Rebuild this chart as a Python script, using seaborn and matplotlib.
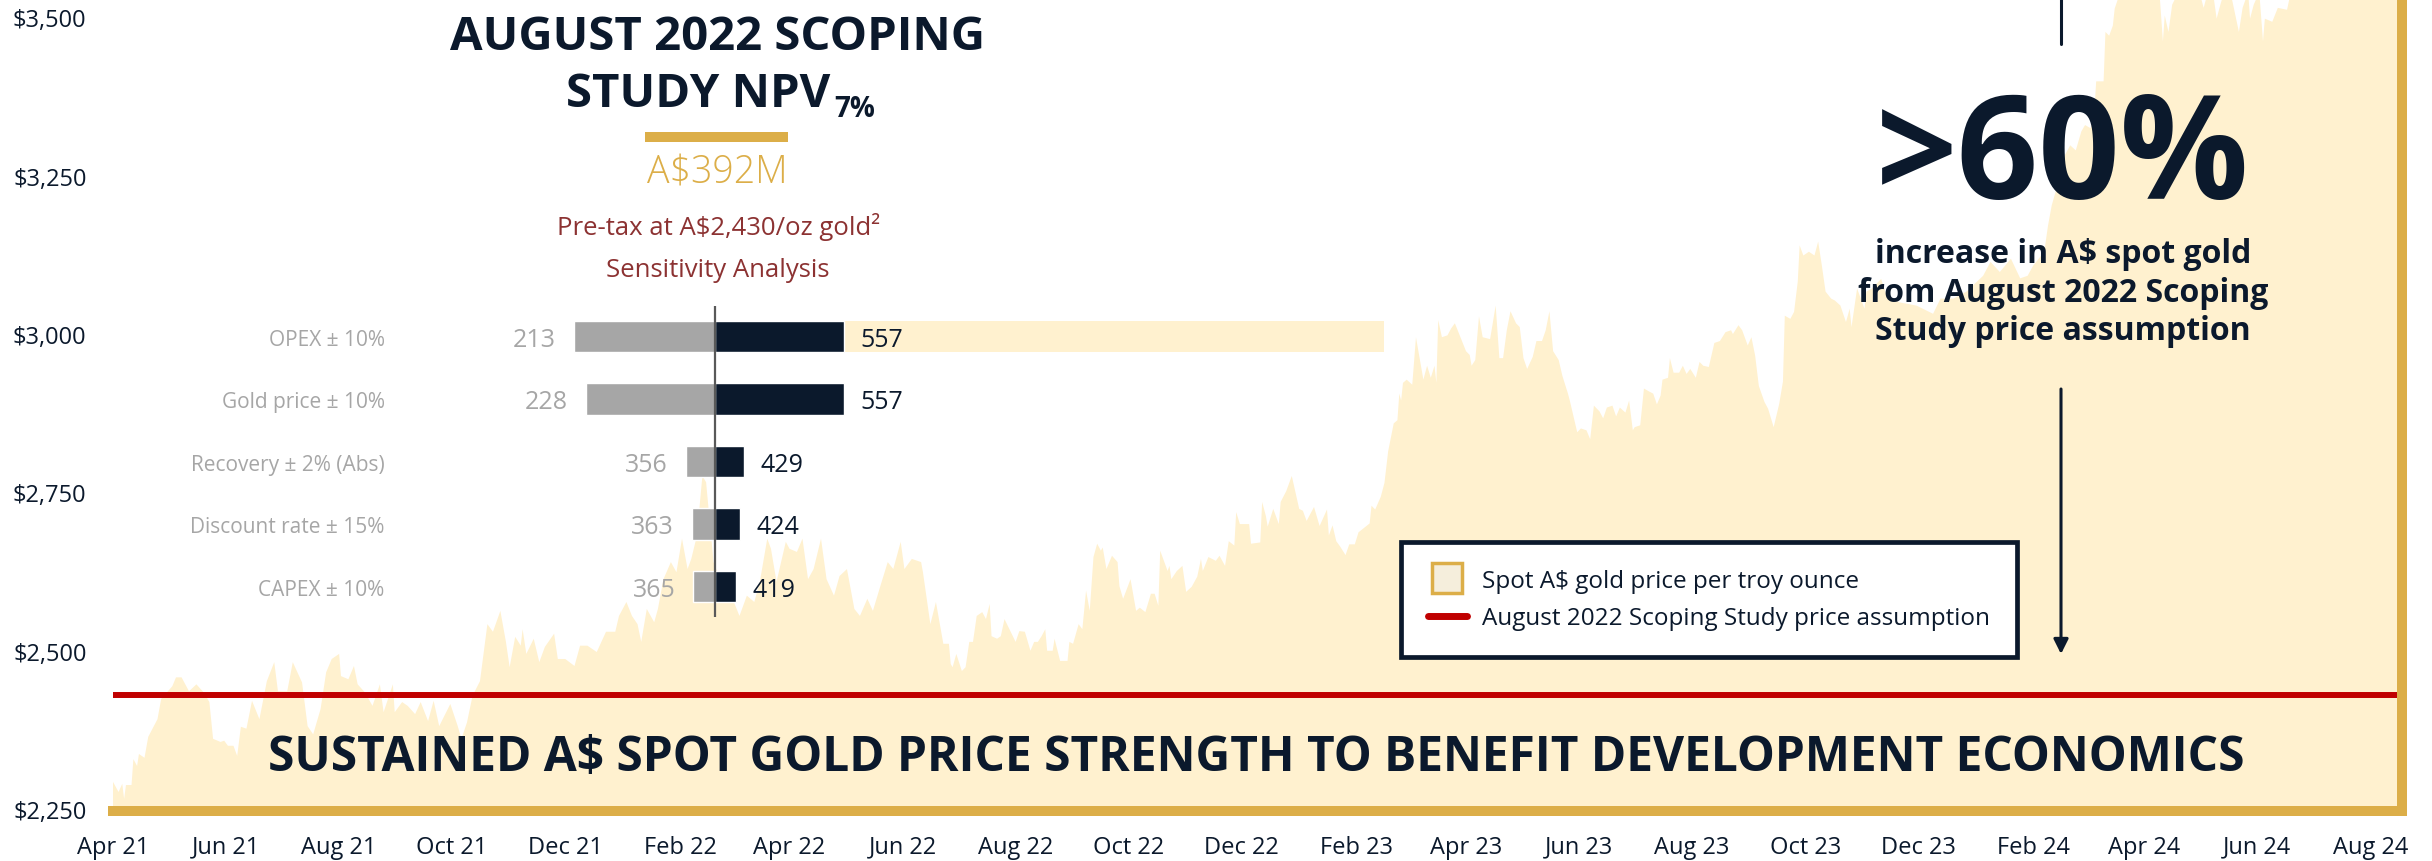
import numpy as np
import pandas as pd
import matplotlib
matplotlib.use("Agg")
import matplotlib.pyplot as plt
import matplotlib.dates as mdates
from matplotlib.lines import Line2D
import seaborn as sns

#1: Data
## Spot A$ gold price per troy ounce (x = days after 1 Apr 2021)
days = [
    0, 3, 5, 6, 7, 10, 11, 13, 14, 17,
    19, 24, 26, 32, 34, 37, 41, 45, 49, 52,
    54, 58, 60, 62, 65, 67, 69, 72, 75, 79,
    83, 87, 89, 94, 97, 102, 105, 108, 112, 115,
    118, 122, 123, 127, 130, 132, 136, 140, 144, 146,
    151, 152, 156, 159, 163, 166, 170, 173, 176, 182,
    186, 188, 191, 194, 198, 202, 205, 209, 212, 214,
    217, 220, 221, 223, 227, 230, 233, 238, 240, 244,
    249, 252, 256, 261, 266, 271, 273, 275, 277, 280,
    283, 285, 288, 292, 294, 297, 301, 304, 307, 310,
    312, 315, 318, 320, 324, 328, 331, 335, 338, 342,
    346, 349, 353, 355, 358, 363, 365, 369, 372, 375,
    378, 382, 385, 389, 392, 396, 400, 403, 407, 410,
    414, 418, 421, 425, 427, 431, 436, 437, 441, 444,
    448, 451, 452, 453, 455, 458, 460, 462, 464, 466,
    469, 471, 473, 474, 477, 479, 481, 487, 489, 492,
    495, 497, 499, 501, 503, 504, 507, 508, 511, 515,
    516, 518, 521, 523, 525, 527, 529, 531, 533, 534,
    536, 539, 542, 543, 545, 549, 552, 554, 557, 560,
    562, 564, 565, 569, 570, 571, 574, 577, 579, 582,
    585, 587, 588, 591, 595, 597, 600, 602, 605, 606,
    608, 613, 614, 619, 620, 622, 623, 626, 629, 630,
    633, 636, 640, 642, 644, 648, 651, 655, 656, 658,
    660, 662, 665, 667, 670, 672, 678, 679, 681, 684,
    686, 688, 691, 693, 694, 695, 696, 698, 701, 703,
    707, 709, 711, 713, 714, 715, 717, 720, 722, 724,
    727, 730, 732, 733, 735, 737, 739, 743, 746, 748,
    750, 752, 754, 757, 759, 761, 763, 766, 768, 771,
    773, 775, 777, 780, 782, 785, 786, 788, 790, 792,
    795, 797, 799, 802, 804, 806, 809, 811, 813, 816,
    818, 820, 821, 824, 826, 829, 831, 833, 835, 836,
    839, 840, 842, 845, 847, 849, 851, 854, 856, 858,
    861, 864, 867, 870, 873, 874, 877, 879, 882, 884,
    886, 888, 891, 893, 896, 899, 901, 902, 905, 907,
    909, 910, 912, 915, 918, 920, 922, 924, 927, 929,
    932, 935, 937, 938, 941, 945, 946, 949, 954, 957,
    964, 973, 982, 986, 993, 1000, 1009, 1013, 1018, 1024,
    1029, 1033, 1036, 1042, 1044, 1046, 1049, 1053, 1056, 1059,
    1062, 1064, 1067, 1069, 1070, 1074, 1075, 1077, 1079, 1080,
    1083, 1086, 1092, 1098, 1104, 1106, 1107, 1109, 1111, 1116,
    1122, 1128, 1132, 1135, 1137, 1141, 1147, 1149, 1152, 1153,
    1155, 1158, 1160, 1161, 1165, 1168, 1173, 1175, 1181, 1190,
    1200, 1210, 1222, 1236,
]
price = [
    2293, 2277, 2290, 2266, 2288, 2288, 2329, 2318, 2337, 2331,
    2364, 2392, 2424, 2444, 2458, 2458, 2436, 2447, 2434, 2419,
    2361, 2356, 2358, 2350, 2350, 2334, 2380, 2377, 2421, 2392,
    2452, 2482, 2436, 2436, 2482, 2450, 2381, 2368, 2408, 2466,
    2487, 2495, 2460, 2455, 2476, 2447, 2434, 2413, 2447, 2403,
    2447, 2403, 2419, 2413, 2400, 2419, 2389, 2421, 2381, 2416,
    2381, 2361, 2387, 2429, 2452, 2542, 2530, 2563, 2514, 2474,
    2522, 2508, 2534, 2495, 2519, 2482, 2506, 2527, 2487, 2487,
    2476, 2508, 2508, 2498, 2530, 2530, 2555, 2566, 2577, 2555,
    2542, 2514, 2566, 2545, 2566, 2613, 2640, 2624, 2677, 2629,
    2645, 2681, 2776, 2766, 2640, 2609, 2593, 2577, 2555, 2587,
    2577, 2609, 2677, 2661, 2609, 2672, 2661, 2656, 2677, 2613,
    2629, 2677, 2613, 2587, 2618, 2629, 2566, 2555, 2582, 2563,
    2602, 2640, 2629, 2672, 2629, 2645, 2640, 2624, 2542, 2577,
    2511, 2511, 2479, 2474, 2495, 2468, 2474, 2514, 2514, 2555,
    2561, 2550, 2574, 2523, 2519, 2523, 2550, 2514, 2531, 2530,
    2500, 2514, 2514, 2523, 2534, 2500, 2500, 2519, 2484, 2484,
    2514, 2511, 2542, 2534, 2595, 2563, 2648, 2669, 2658, 2663,
    2629, 2650, 2640, 2602, 2582, 2613, 2563, 2568, 2561, 2590,
    2590, 2571, 2658, 2626, 2634, 2613, 2626, 2634, 2593, 2601,
    2617, 2645, 2626, 2648, 2642, 2650, 2634, 2673, 2666, 2719,
    2700, 2700, 2669, 2671, 2735, 2713, 2696, 2724, 2700, 2735,
    2752, 2776, 2724, 2721, 2705, 2727, 2697, 2723, 2682, 2698,
    2673, 2665, 2651, 2668, 2668, 2687, 2701, 2729, 2723, 2743,
    2765, 2815, 2859, 2864, 2906, 2895, 2923, 2928, 2920, 2995,
    2928, 2950, 2931, 2950, 2923, 3022, 2995, 2998, 3009, 3017,
    2995, 2973, 2967, 2950, 2959, 3028, 2995, 2992, 3045, 2962,
    2962, 3006, 3036, 3017, 3011, 2962, 2945, 2964, 2989, 2989,
    3006, 3036, 2973, 2959, 2934, 2906, 2895, 2870, 2845, 2851,
    2848, 2834, 2887, 2878, 2867, 2884, 2887, 2870, 2884, 2876,
    2895, 2848, 2853, 2856, 2914, 2909, 2906, 2889, 2903, 2928,
    2931, 2962, 2939, 2939, 2950, 2937, 2945, 2931, 2956, 2950,
    2948, 2986, 2989, 3003, 3006, 3000, 3014, 3006, 2982, 2995,
    2966, 2918, 2893, 2882, 2853, 2890, 2925, 3029, 3024, 3035,
    3083, 3140, 3124, 3130, 3124, 3146, 3108, 3067, 3056, 3053,
    3045, 3019, 3040, 3011, 3072, 3040, 3067, 3072, 3087, 3060,
    3050, 3045, 3032, 3056, 3056, 3067, 3092, 3114, 3098, 3119,
    3088, 3092, 3108, 3130, 3171, 3203, 3234, 3282, 3298, 3290,
    3320, 3330, 3325, 3351, 3399, 3399, 3477, 3471, 3487, 3514,
    3540, 3555, 3570, 3560, 3545, 3462, 3503, 3477, 3520, 3550,
    3580, 3515, 3560, 3498, 3520, 3560, 3477, 3515, 3540, 3498,
    3520, 3540, 3462, 3498, 3493, 3515, 3512, 3540, 3580, 3600,
    3620, 3640, 3650, 3660,
]

scoping_price = 2430
y_ticks = [2250, 2500, 2750, 3000, 3250, 3500]

## NPV7% sensitivity analysis (A$M)
npv_base = 392
sens_labels = ["OPEX ± 10%", "Gold price ± 10%", "Recovery ± 2% (Abs)",
               "Discount rate ± 15%", "CAPEX ± 10%"]
sens_low = [213, 228, 356, 363, 365]
sens_high = [557, 557, 429, 424, 419]
opex_band_end = 1245

navy = "#0b192c"
gold = "#dcae48"
pale = "#fff1cf"
red = "#c00000"
grey = "#a6a6a6"
maroon = "#8c3232"

#2: Figure setup
sns.set_style("white")
plt.rcParams["font.family"] = ["Open Sans", "DejaVu Sans"]
plt.rcParams["text.parse_math"] = False

W, H = 2432, 862
fig = plt.figure(figsize=(W / 100, H / 100), dpi=100)


def fx(px):
    return px / W


def fy(py):
    return 1 - py / H


#3: Gold price area chart
ax = fig.add_axes([fx(113), fy(812), (2402 - 113) / W, 812 / H])
start = pd.Timestamp("2021-04-01")
dates = start + pd.to_timedelta(days, unit="D")
ax.fill_between(dates, 2247, price, color=pale, lw=0, zorder=1)
ax.axhline(scoping_price, color=red, lw=4.3, zorder=2)
ax.set_xlim(start, start + pd.Timedelta(days=1235))
ax.set_ylim(2247, 3529)
ax.set_yticks(y_ticks)
ax.set_yticklabels([f"${v:,}" for v in y_ticks])
ax.xaxis.set_major_locator(mdates.MonthLocator(bymonth=[2, 4, 6, 8, 10, 12]))
ax.xaxis.set_major_formatter(mdates.DateFormatter("%b %y"))
ax.tick_params(axis="both", length=0, labelsize=17, labelcolor=navy)
ax.tick_params(axis="y", pad=19)
ax.tick_params(axis="x", pad=17)
ax.grid(False)
for s in ["top", "left"]:
    ax.spines[s].set_visible(False)
for s in ["bottom", "right"]:
    ax.spines[s].set_color(gold)
    ax.spines[s].set_linewidth(7.2)
    ax.spines[s].set_capstyle("projecting")

## Legend
handles = [
    Line2D([], [], marker="s", markersize=21, markerfacecolor="#f5eedc",
           markeredgecolor=gold, markeredgewidth=2.5, linestyle="none"),
    Line2D([], [], color=red, lw=5),
]
leg = ax.legend(handles, ["Spot A$ gold price per troy ounce",
                          "August 2022 Scoping Study price assumption"],
                loc="upper left", bbox_to_anchor=(fx(1401), fy(543)),
                bbox_transform=fig.transFigure, fontsize=17.5, labelcolor=navy,
                frameon=True, fancybox=False, framealpha=1, edgecolor=navy,
                borderpad=1.1, labelspacing=0.55, handlelength=1.6,
                handletextpad=0.65, borderaxespad=0)
leg.get_frame().set_linewidth(3.4)

#4: Sensitivity tornado
tax = fig.add_axes([fx(500), fy(618), 900 / W, 311 / H])
tax.set_facecolor("none")
sens = pd.DataFrame({"label": sens_labels,
                     "low": np.array(sens_low) - npv_base,
                     "high": np.array(sens_high) - npv_base})
tax.barh(0, opex_band_end - npv_base, height=0.5, color=pale, lw=0, zorder=0.5)
sns.barplot(data=sens, x="low", y="label", color=grey, saturation=1,
            width=0.5, errorbar=None, ax=tax, zorder=2)
sns.barplot(data=sens, x="high", y="label", color=navy, saturation=1,
            width=0.5, errorbar=None, ax=tax, zorder=2)
tax.axvline(0, color="#595959", lw=1.6, zorder=3)
tax.set_xlim((500 - 714.5) / 0.785, (1400 - 714.5) / 0.785)
tax.set_ylim(4.488, -0.488)
tax.set_xlabel("")
tax.set_ylabel("")
tax.set_xticks([])
tax.tick_params(axis="y", length=0, pad=83, labelsize=15, labelcolor=grey)
for s in tax.spines.values():
    s.set_visible(False)
for i, (lo, hi) in enumerate(zip(sens_low, sens_high)):
    tax.annotate(str(lo), xy=(lo - npv_base, i), xytext=(-13, -6.5),
                 textcoords="offset points", ha="right", va="baseline",
                 fontsize=18, color=grey)
    tax.annotate(str(hi), xy=(hi - npv_base, i), xytext=(12, -6.5),
                 textcoords="offset points", ha="left", va="baseline",
                 fontsize=18, color=navy)

#5: Headings and callouts
fig.text(fx(717), fy(50), "AUGUST 2022 SCOPING", ha="center", va="baseline",
         fontsize=34, fontweight="bold", color=navy)
fig.text(fx(830), fy(107), "STUDY NPV", ha="right", va="baseline",
         fontsize=34, fontweight="bold", color=navy)
fig.text(fx(834), fy(117), "7%", ha="left", va="baseline",
         fontsize=20, fontweight="bold", color=navy)
fig.add_artist(Line2D([fx(645), fx(788)], [fy(138), fy(138)],
                      transform=fig.transFigure, color=gold, lw=7.2,
                      solid_capstyle="butt"))
fig.text(fx(717), fy(184), "A$392M", ha="center", va="baseline",
         fontsize=27, fontweight="light", color=gold)
fig.text(fx(719), fy(235), "Pre-tax at A$2,430/oz gold²", ha="center",
         va="baseline", fontsize=18.5, color=maroon)
fig.text(fx(718), fy(277), "Sensitivity Analysis", ha="center",
         va="baseline", fontsize=18.5, color=maroon)

fig.text(fx(2063), fy(199), ">60%", ha="center", va="baseline",
         fontsize=103, fontweight="bold", color=navy)
for line, yy in zip(["increase in A$ spot gold", "from August 2022 Scoping",
                     "Study price assumption"], [263, 302, 340]):
    fig.text(fx(2063), fy(yy), line, ha="center", va="baseline",
             fontsize=23, fontweight="bold", color=navy)

fig.add_artist(Line2D([fx(2061), fx(2061)], [fy(0), fy(45)],
                      transform=fig.transFigure, color=navy, lw=2.2))
ax.annotate("", xy=(fx(2061), fy(655)), xytext=(fx(2061), fy(390)),
            xycoords="figure fraction", textcoords="figure fraction",
            arrowprops=dict(arrowstyle="-|>", color=navy, lw=2.2,
                            mutation_scale=22, shrinkA=0, shrinkB=0))

fig.text(fx(1256), fy(771),
         "SUSTAINED A$ SPOT GOLD PRICE STRENGTH TO BENEFIT DEVELOPMENT ECONOMICS",
         ha="center", va="baseline", fontsize=34.5, fontweight="bold", color=navy)

fig.savefig("out.png", dpi=100)
